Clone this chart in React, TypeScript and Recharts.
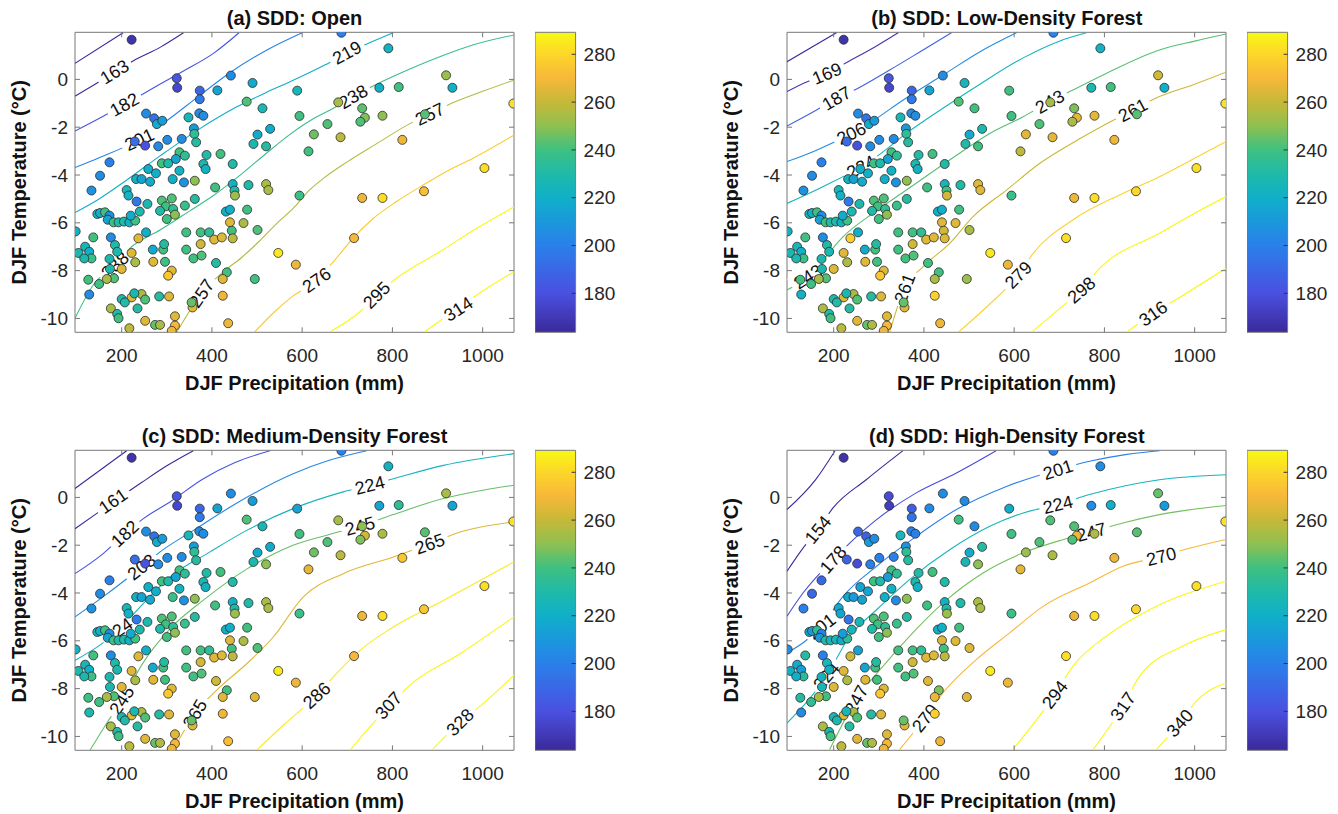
import React from 'react';
import { ScatterChart, Scatter, XAxis, YAxis, ComposedChart, ReferenceArea } from 'recharts';

const FONT = 'Arial, "Liberation Sans", Helvetica, sans-serif';
const AXIS = '#777777';
const X_DOMAIN: [number, number] = [96.5, 1069.5];
const Y_DOMAIN: [number, number] = [-10.58, 1.97];
const C_DOMAIN: [number, number] = [163.7, 289.2];
const PLOT_W = 439;
const PLOT_H = 300;

const xTicks = [200, 400, 600, 800, 1000];
const yTicks = [-10, -8, -6, -4, -2, 0];
const cbTicks = [180, 200, 220, 240, 260, 280];

// DJF precipitation (mm) of each site
const precip = [222,687,791,322,323,442,490,373,412,373,477,512,589,594,771,814,919,933,1068,680,733,739,729,778,872,822,685,656,626,614,254,272,278,290,348,372,381,360,361,333,301,281,252,229,501,529,492,520,365,388,381,386,419,446,328,340,289,303,320,328,173,152,133,259,276,232,244,263,313,338,362,407,446,450,451,481,520,525,594,211,215,233,257,240,289,311,298,314,340,362,318,300,285,431,440,478,440,444,446,470,501,146,152,163,173,169,182,193,205,217,230,220,98,137,176,237,254,343,375,394,405,422,375,104,119,128,133,117,185,190,173,222,230,269,292,294,343,359,377,270,296,409,547,586,715,733,778,870,1004,174,200,183,126,150,167,311,303,433,424,495,128,200,222,207,244,252,283,305,176,190,193,235,252,217,274,285,318,318,311,357,355,424,436,228];
// DJF temperature (°C) of each site
const temp = [1.66,1.95,1.30,0.05,-0.35,0.16,-0.15,-0.47,-0.46,-0.83,-0.93,-1.21,-0.47,-1.53,-0.35,-0.32,0.17,-0.35,-1.01,-0.96,-1.21,-1.60,-1.77,-1.52,-1.46,-2.53,-2.42,-1.87,-2.30,-3.01,-1.43,-1.63,-1.87,-1.73,-1.59,-1.42,-1.52,-2.05,-2.28,-2.49,-2.53,-2.80,-2.77,-2.60,-2.31,-2.07,-2.70,-2.80,-2.63,-3.16,-3.54,-3.75,-3.12,-3.54,-3.05,-3.19,-3.51,-3.51,-3.33,-3.82,-3.47,-4.03,-4.65,-3.75,-3.93,-4.17,-4.17,-4.28,-4.17,-4.31,-4.24,-4.52,-4.38,-4.65,-4.86,-4.42,-4.38,-4.63,-4.86,-4.63,-4.86,-5.11,-5.21,-5.53,-5.07,-4.98,-5.31,-5.42,-5.28,-5.00,-5.66,-5.84,-5.50,-5.53,-5.45,-5.45,-5.98,-6.33,-6.65,-6.01,-6.30,-5.63,-5.59,-5.56,-5.70,-5.87,-5.98,-5.98,-5.95,-5.98,-5.91,-5.70,-6.36,-6.61,-6.61,-6.65,-6.40,-6.40,-6.40,-6.40,-6.70,-6.61,-6.89,-7.26,-7.00,-7.21,-7.49,-7.49,-6.93,-7.21,-7.51,-7.26,-7.65,-7.12,-7.12,-6.89,-7.12,-7.49,-7.37,-7.63,-7.63,-7.68,-7.26,-7.75,-6.64,-4.96,-4.96,-4.68,-3.71,-7.93,-7.93,-8.32,-8.38,-8.56,-8.35,-8.00,-8.21,-8.07,-8.35,-8.35,-9.00,-9.19,-9.12,-9.33,-8.98,-9.21,-9.08,-9.08,-9.58,-9.81,-9.99,-9.58,-10.10,-10.41,-10.27,-10.27,-9.91,-10.30,-10.52,-9.54,-9.33,-9.05,-10.20,-8.95];
// Snow disappearance day, per land-cover class
const sddOpen = [168,200,222,182,176,205,218,190,215,198,242,228,226,240,220,240,252,220,283,254,244,248,242,250,243,268,258,242,246,240,205,195,218,212,225,205,205,212,235,205,205,205,180,192,218,218,228,232,232,230,228,222,240,230,240,235,240,230,215,222,200,205,208,220,220,222,215,218,220,208,250,240,222,230,252,230,255,255,238,225,222,198,228,228,242,242,240,235,238,232,250,240,230,220,220,240,265,240,258,255,242,225,220,240,205,215,240,230,230,222,240,218,222,240,205,265,220,240,240,235,265,265,262,228,225,220,238,228,230,228,228,265,255,218,240,232,240,240,242,265,240,232,285,268,270,268,282,272,282,228,265,242,240,240,255,265,275,240,265,240,205,228,265,230,255,242,232,265,255,230,240,232,265,258,245,255,265,270,268,265,245,268,268,228];
const sddLow = [168,200,222,182,176,205,225,190,215,198,242,240,240,240,228,240,262,220,283,254,248,266,255,266,243,268,266,242,266,258,205,195,218,212,225,205,205,212,235,205,205,205,180,192,218,228,230,240,232,230,228,222,240,230,240,235,240,230,215,222,200,205,208,220,220,222,215,218,220,208,250,240,225,240,262,230,265,265,238,225,222,198,228,228,242,242,240,235,238,232,250,240,230,220,220,240,265,262,265,265,255,225,220,240,205,215,240,230,230,222,240,218,222,240,205,278,220,240,240,235,265,265,262,228,225,220,238,228,230,228,228,265,255,218,240,232,240,240,242,265,240,240,285,268,282,268,282,280,282,228,265,242,240,240,255,265,275,240,255,252,222,228,265,230,255,242,232,265,255,230,240,232,265,258,245,255,265,270,268,265,245,278,268,228];
const sddMed = [168,200,222,182,176,205,212,190,215,198,242,225,215,240,215,235,255,215,283,254,250,262,248,255,243,275,258,242,246,266,205,195,218,212,225,205,205,212,235,205,205,205,180,192,218,218,228,250,232,230,228,222,240,230,240,235,240,230,215,222,200,205,208,220,220,222,215,218,238,208,250,240,222,230,252,230,255,255,238,225,222,198,228,228,242,242,240,235,238,232,250,240,230,220,220,240,265,240,258,255,242,225,220,240,205,215,240,230,230,222,240,218,222,240,205,265,220,240,240,235,265,265,262,228,225,220,238,228,230,228,228,265,255,218,240,232,240,240,242,265,240,262,285,268,270,268,282,275,282,228,265,242,240,240,255,265,275,240,265,265,228,228,265,230,255,242,232,265,255,230,240,232,265,258,245,255,265,270,268,265,245,268,272,228];
const sddHigh = [168,200,205,178,172,205,205,186,205,195,240,205,218,240,205,220,245,212,283,242,242,268,242,255,243,268,255,242,252,266,190,188,212,205,225,200,200,208,235,200,200,200,178,188,218,232,225,250,232,230,228,222,240,230,240,235,240,230,212,222,190,190,200,215,215,218,210,215,220,205,250,240,222,230,252,230,255,255,238,218,215,195,225,225,242,242,240,235,238,232,250,240,230,220,220,240,265,240,258,265,265,215,212,235,200,210,232,225,225,218,235,212,205,232,200,262,215,240,240,235,265,265,262,220,218,212,232,220,225,222,222,265,255,215,240,232,240,240,242,265,240,265,285,268,282,268,282,280,282,225,265,240,232,235,255,265,275,248,268,265,205,225,265,228,255,242,232,265,255,228,240,232,265,258,245,255,265,270,268,265,245,278,268,225];

type Contour = { level: number; path: number[][]; labels: number[][] };

const contoursOpen: Contour[] = [
  { level: 144, path: [[96.5, 0.67], [203, 1.95]], labels: [] },
  { level: 163, path: [[96.5, -0.7], [141, -0.2], [184, 0.3], [226, 0.78], [286, 1.35], [337, 1.95]], labels: [[184, 0.32]] },
  { level: 182, path: [[96.5, -2.16], [158, -1.55], [213, -0.98], [268, -0.38], [336, 0.34], [405, 1.11], [460, 1.95]], labels: [[206, -1.05]] },
  { level: 201, path: [[96.5, -3.69], [150, -3.28], [239, -2.51], [294, -1.81], [371, -0.7], [439, 0.27], [524, 1.25], [600, 1.95]], labels: [[239, -2.51]] },
  { level: 219, path: [[96.5, -5.57], [150, -5.0], [209, -4.24], [285, -3.2], [370, -2.1], [450, -1.2], [520, -0.55], [573, -0.1], [650, 0.6], [699, 1.1], [747, 1.51], [802, 1.95]], labels: [[699, 1.12]] },
  { level: 238, path: [[96.5, -9.99], [137, -8.6], [185, -7.75], [222, -7.0], [285, -6.3], [351, -5.5], [400, -4.9], [466, -3.95], [520, -3.1], [573, -2.3], [620, -1.7], [669, -1.21], [713, -0.72], [776, -0.1], [840, 0.45], [905, 0.95], [980, 1.45], [1069.5, 1.86]], labels: [[185, -7.77], [713, -0.72]] },
  { level: 257, path: [[322, -10.58], [359, -9.44], [377, -8.95], [425, -8.05], [466, -7.45], [506, -6.75], [545, -6.0], [580, -5.4], [615, -4.65], [650, -4.1], [700, -3.45], [760, -2.75], [839, -1.85], [883, -1.45], [931, -1.0], [1000, -0.5], [1069.5, -0.03]], labels: [[377, -8.95], [883, -1.45]] },
  { level: 276, path: [[494, -10.58], [540, -9.7], [573, -9.16], [632, -8.39], [669, -7.63], [710, -6.7], [758, -5.81], [810, -5.1], [868, -4.42], [920, -3.85], [979, -3.3], [1069.5, -2.33]], labels: [[632, -8.39]] },
  { level: 295, path: [[660, -10.58], [728, -9.72], [765, -9.02], [809, -8.32], [905, -7.21], [987, -6.23], [1069.5, -5.33]], labels: [[765, -9.02]] },
  { level: 314, path: [[870, -10.58], [913, -10.0], [946, -9.6], [987, -9.02], [1069.5, -8.05]], labels: [[946, -9.6]] },
];

const contoursLow: Contour[] = [
  { level: 150, path: [[96.5, 0.74], [206, 1.95]], labels: [] },
  { level: 169, path: [[96.5, -0.51], [136, -0.14], [185, 0.25], [232, 0.74], [295, 1.4], [343, 1.95]], labels: [[185, 0.25]] },
  { level: 187, path: [[96.5, -1.95], [162, -1.28], [206, -0.79], [254, -0.37], [324, 0.39], [398, 1.23], [461, 1.95]], labels: [[206, -0.79]] },
  { level: 206, path: [[96.5, -3.44], [162, -2.96], [239, -2.26], [284, -1.77], [354, -0.86], [442, 0.18], [531, 1.23], [605, 1.95]], labels: [[239, -2.26]] },
  { level: 224, path: [[96.5, -5.19], [176, -4.49], [261, -3.65], [295, -3.23], [361, -2.26], [442, -1.21], [524, -0.2], [620, 0.9], [700, 1.6], [760, 1.95]], labels: [[261, -3.65]] },
  { level: 243, path: [[96.5, -8.81], [143, -8.25], [176, -7.56], [221, -6.58], [287, -5.6], [361, -4.63], [457, -3.37], [546, -2.26], [620, -1.56], [679, -0.93], [723, -0.51], [804, 0.25], [922, 1.23], [1000, 1.6], [1069.5, 1.9]], labels: [[143, -8.25], [679, -0.93]] },
  { level: 261, path: [[324, -10.58], [340, -9.6], [357, -8.74], [398, -7.84], [457, -6.86], [509, -5.74], [583, -4.63], [657, -3.51], [753, -2.4], [863, -1.28], [922, -0.72], [1000, -0.2], [1069.5, 0.3]], labels: [[357, -8.74], [863, -1.28]] },
  { level: 279, path: [[476, -10.58], [540, -9.5], [609, -8.18], [642, -7.28], [730, -5.88], [841, -4.77], [922, -4.07], [1000, -3.3], [1069.5, -2.6]], labels: [[609, -8.18]] },
  { level: 298, path: [[638, -10.58], [700, -9.6], [749, -8.81], [790, -7.9], [922, -6.44], [1000, -5.6], [1069.5, -4.9]], labels: [[749, -8.81]] },
  { level: 316, path: [[849, -10.58], [908, -9.79], [960, -9.2], [1069.5, -7.9]], labels: [[908, -9.79]] },
];

const contoursMed: Contour[] = [
  { level: 140, path: [[96.5, 0.37], [211, 1.95]], labels: [] },
  { level: 161, path: [[96.5, -1.31], [141, -0.72], [181, -0.2], [244, 0.62], [300, 1.32], [358.7, 1.95]], labels: [[181, -0.15]] },
  { level: 182, path: [[96.5, -3.19], [159, -2.35], [207, -1.52], [248, -0.89], [307, -0.19], [381, 0.78], [450, 1.45], [528.6, 1.95]], labels: [[207, -1.52]] },
  { level: 203, path: [[96.5, -5.0], [163, -4.1], [244, -2.91], [285, -2.28], [359, -1.38], [447, -0.33], [580, 0.99], [660, 1.55], [743, 1.95]], labels: [[244, -2.91]] },
  { level: 224, path: [[96.5, -6.82], [192.5, -5.56], [240.5, -4.59], [307, -3.33], [396, -2.28], [477, -1.38], [580, -0.47], [691, 0.23], [750, 0.51], [802, 0.78], [913, 1.34], [1069.5, 1.83]], labels: [[192.5, -5.56], [750, 0.51]] },
  { level: 245, path: [[129.7, -10.58], [165, -9.5], [200, -8.49], [248, -6.9], [307, -5.5], [381, -4.3], [477, -3.0], [580, -2.0], [660, -1.55], [728, -1.2], [802, -0.72], [913, -0.05], [1000, 0.3], [1069.5, 0.51]], labels: [[200, -8.49], [728, -1.2]] },
  { level: 265, path: [[314, -10.58], [362, -9.05], [410, -8.07], [477, -6.96], [536, -5.84], [602, -4.17], [691, -3.19], [802, -2.49], [883, -1.94], [950, -1.45], [1069.5, -1.03]], labels: [[362, -9.05], [883, -1.94]] },
  { level: 286, path: [[499, -10.58], [560, -9.5], [632, -8.28], [676, -7.37], [728, -6.4], [802, -5.42], [913, -4.31], [1069.5, -2.7]], labels: [[632, -8.28]] },
  { level: 307, path: [[706, -10.58], [750, -9.6], [791, -8.75], [839, -7.85], [950, -6.54], [1069.5, -5.0]], labels: [[791, -8.7]] },
  { level: 328, path: [[887, -10.58], [950, -9.4], [1001, -8.63], [1069.5, -7.44]], labels: [[950, -9.4]] },
];

const contoursHigh: Contour[] = [
  { level: 131, path: [[96.5, -0.51], [160, 0.74], [203, 1.95]], labels: [] },
  { level: 154, path: [[96.5, -3.09], [132, -2.12], [165, -1.35], [198.5, -0.44], [272, 0.74], [353, 1.95]], labels: [[165, -1.35]] },
  { level: 178, path: [[96.5, -4.97], [132, -4.0], [198.5, -2.6], [235.5, -1.91], [295, -0.93], [383, 0.19], [472, 1.02], [560, 1.95]], labels: [[198.5, -2.6]] },
  { level: 201, path: [[96.5, -6.51], [172.7, -5.39], [220.7, -4.14], [295, -2.88], [383, -1.63], [472, -0.51], [583, 0.46], [697, 1.16], [767, 1.51], [850, 1.8], [922, 1.95]], labels: [[172.7, -5.39], [697, 1.16]] },
  { level: 224, path: [[96.5, -9.44], [183.8, -7.48], [235.5, -5.81], [295, -4.7], [368, -3.44], [457, -2.19], [546, -1.21], [620, -0.65], [697, -0.3], [767, 0.12], [922, 0.74], [1069.5, 0.95]], labels: [[183.8, -7.48], [697, -0.3]] },
  { level: 247, path: [[191, -10.55], [250, -8.46], [309, -7.07], [368, -5.81], [442, -4.42], [531, -3.16], [620, -2.32], [708, -1.77], [771, -1.45], [841, -1.07], [922, -0.72], [1069.5, -0.34]], labels: [[250, -8.46], [771, -1.45]] },
  { level: 270, path: [[346, -10.55], [402, -9.23], [442, -8.18], [516, -6.79], [590, -5.67], [664, -4.56], [767, -3.58], [841, -2.88], [926, -2.47], [978, -2.18], [1069.5, -1.76]], labels: [[402, -9.23], [926, -2.47]] },
  { level: 294, path: [[597, -10.55], [690, -8.25], [730, -7.07], [804, -5.81], [900, -4.7], [1069.5, -3.51]], labels: [[690, -8.25]] },
  { level: 317, path: [[775, -10.55], [841, -8.74], [878, -7.48], [974, -6.22], [1069.5, -5.53]], labels: [[841, -8.74]] },
  { level: 340, path: [[915, -10.55], [967, -9.44], [1007, -8.46], [1069.5, -7.76]], labels: [[967, -9.44]] },
];

// parula-like colormap (style)
const CMAP_STOPS = [0, 0.13, 0.29, 0.37, 0.45, 0.53, 0.61, 0.69, 0.77, 0.85, 0.93, 1];
const CMAP_COLORS = ['#3b2a9a', '#4a50e0', '#2a80ea', '#1a98dc', '#10b0c8', '#20baa8', '#40c080', '#90c050', '#c8b838', '#f8b83a', '#fcd82a', '#f8f814'];
const hex = (h: string) => [1, 3, 5].map((i) => parseInt(h.slice(i, i + 2), 16));
function parula(v: number) {
  let t = (v - C_DOMAIN[0]) / (C_DOMAIN[1] - C_DOMAIN[0]);
  t = Math.max(0, Math.min(1, t));
  let i = 0;
  while (i < CMAP_STOPS.length - 2 && t > CMAP_STOPS[i + 1]) i++;
  const f = (t - CMAP_STOPS[i]) / (CMAP_STOPS[i + 1] - CMAP_STOPS[i]);
  const a = hex(CMAP_COLORS[i]);
  const b = hex(CMAP_COLORS[i + 1]);
  const c = a.map((x, k) => Math.round(x + (b[k] - x) * f));
  return `rgb(${c[0]},${c[1]},${c[2]})`;
}

const KX = PLOT_W / (X_DOMAIN[1] - X_DOMAIN[0]);
const KY = PLOT_H / (Y_DOMAIN[1] - Y_DOMAIN[0]);
function slopeAngle(path: number[][], px: number) {
  let i = 0;
  while (i < path.length - 2 && path[i + 1][0] < px) i++;
  const [x0, y0] = path[i];
  const [x1, y1] = path[i + 1];
  return (-Math.atan2((y1 - y0) * KY, (x1 - x0) * KX) * 180) / Math.PI;
}

const BottomTick = (p: any) => (
  <g>
    <line x1={p.x} x2={p.x} y1={p.y} y2={p.y - 5} stroke={AXIS} />
    <text x={p.x} y={p.y + 23} dy="0.35em" textAnchor="middle" fontSize={19} fill="#262626" fontFamily={FONT}>{p.payload.value}</text>
  </g>
);
const TopTick = (p: any) => <line x1={p.x} x2={p.x} y1={p.y} y2={p.y + 5} stroke={AXIS} />;
const LeftTick = (p: any) => (
  <g>
    <line x1={p.x} x2={p.x + 5} y1={p.y} y2={p.y} stroke={AXIS} />
    <text x={p.x - 7} y={p.y} dy="0.35em" textAnchor="end" fontSize={19} fill="#262626" fontFamily={FONT}>{p.payload.value}</text>
  </g>
);
const RightTick = (p: any) => <line x1={p.x} x2={p.x - 5} y1={p.y} y2={p.y} stroke={AXIS} />;
const CbTick = (p: any) => (
  <g>
    <line x1={p.x} x2={p.x - 4} y1={p.y} y2={p.y} stroke="#333" />
    <text x={p.x + 8} y={p.y} dy="0.35em" textAnchor="start" fontSize={19} fill="#262626" fontFamily={FONT}>{p.payload.value}</text>
  </g>
);

const EmptyShape = () => <g />;
const PointShape = (p: any) => (
  <circle cx={p.cx} cy={p.cy} r={4.5} fill={parula(p.payload.v)} stroke="#2b2b2b" strokeWidth={0.8} />
);
const LabelShape = (p: any) => (
  <g transform={`translate(${p.cx},${p.cy}) rotate(${p.payload.angle})`}>
    <rect x={-19} y={-9} width={38} height={18} fill="#ffffff" />
    <text x={0} y={0} dy="0.35em" textAnchor="middle" fontSize={18} fill="#111" fontFamily={FONT}>{p.payload.level}</text>
  </g>
);

const XTitle = (p: any) => {
  const vb = p.viewBox;
  return (
    <text x={vb.x + vb.width / 2} y={vb.y + 51} dy="0.35em" textAnchor="middle" fontSize={20} fontWeight="bold" fill="#111" fontFamily={FONT}>
      DJF Precipitation (mm)
    </text>
  );
};
const YTitle = (p: any) => {
  const vb = p.viewBox;
  const cy = vb.y + vb.height / 2;
  return (
    <text x={19.5} y={cy} dy="0.35em" transform={`rotate(-90, 19.5, ${cy})`} textAnchor="middle" fontSize={20} fontWeight="bold" fill="#111" fontFamily={FONT}>
      DJF Temperature (°C)
    </text>
  );
};

function Panel({ title, sdd, contours, left, top }: { title: string; sdd: number[]; contours: Contour[]; left: number; top: number }) {
  const pts = precip.map((p, i) => ({ x: p, y: temp[i], v: sdd[i] }));
  const labelPts = contours.flatMap((c) => c.labels.map(([x, y]) => ({ x, y, level: c.level, angle: slopeAngle(c.path, x) })));
  return (
    <div style={{ position: 'absolute', left, top, width: 600, height: 410 }}>
      <div style={{ position: 'absolute', left: 75, width: PLOT_W, top: 7, textAlign: 'center', fontFamily: FONT, fontWeight: 'bold', fontSize: 20, lineHeight: '22px', color: '#111', whiteSpace: 'nowrap' }}>
        {title}
      </div>
      <ScatterChart width={600} height={410} margin={{ top: 31.3, right: 85, bottom: 0, left: 0 }}>
        <XAxis type="number" dataKey="x" domain={X_DOMAIN} ticks={xTicks} allowDataOverflow height={77.7} interval={0} tickSize={0} tickMargin={0} tickLine={false} axisLine={{ stroke: AXIS }} tick={BottomTick} label={{ content: XTitle }} />
        <XAxis xAxisId="top" orientation="top" type="number" dataKey="x" domain={X_DOMAIN} ticks={xTicks} allowDataOverflow height={1} interval={0} tickSize={0} tickMargin={0} tickLine={false} axisLine={{ stroke: AXIS }} tick={TopTick} />
        <YAxis type="number" dataKey="y" domain={Y_DOMAIN} ticks={yTicks} allowDataOverflow width={75} interval={0} tickSize={0} tickMargin={0} tickLine={false} axisLine={{ stroke: AXIS }} tick={LeftTick} label={{ content: YTitle }} />
        <YAxis yAxisId="right" orientation="right" type="number" dataKey="y" domain={Y_DOMAIN} ticks={yTicks} allowDataOverflow width={1} interval={0} tickSize={0} tickMargin={0} tickLine={false} axisLine={{ stroke: AXIS }} tick={RightTick} />
        <Scatter xAxisId="top" yAxisId="right" data={pts} shape={EmptyShape} isAnimationActive={false} />
        {contours.map((c) => (
          <Scatter
            key={`c${c.level}`}
            data={c.path.map(([x, y]) => ({ x, y }))}
            fill={parula(c.level)}
            line={{ stroke: parula(c.level), strokeWidth: 1.1 }}
            lineJointType="monotoneX"
            shape={EmptyShape}
            isAnimationActive={false}
          />
        ))}
        <Scatter data={labelPts} shape={LabelShape} isAnimationActive={false} />
        <Scatter data={pts} shape={PointShape} isAnimationActive={false} />
      </ScatterChart>
    </div>
  );
}

function ColorBar({ left, top }: { left: number; top: number }) {
  const n = 125;
  const step = (C_DOMAIN[1] - C_DOMAIN[0]) / n;
  const bands = Array.from({ length: n }, (_, i) => ({ lo: C_DOMAIN[0] + i * step, hi: Math.min(C_DOMAIN[1], C_DOMAIN[0] + (i + 1.3) * step) }));
  const tickData = cbTicks.map((v) => ({ x: 0.5, v }));
  return (
    <div style={{ position: 'absolute', left, top }}>
      <ComposedChart width={110} height={410} data={tickData} margin={{ top: 32.3, right: 68.4, bottom: 77.7, left: 0 }}>
        <XAxis type="number" dataKey="x" domain={[0, 1]} hide allowDataOverflow />
        <YAxis type="number" dataKey="v" orientation="right" domain={C_DOMAIN} ticks={cbTicks} allowDataOverflow width={1} interval={0} tickSize={0} tickMargin={0} tickLine={false} axisLine={false} tick={CbTick} />
        <Scatter data={tickData} dataKey="v" shape={EmptyShape} isAnimationActive={false} />
        {bands.map((b, i) => (
          <ReferenceArea key={i} x1={0} x2={1} y1={b.lo} y2={b.hi} fill={parula(b.lo + step / 2)} fillOpacity={1} stroke="none" ifOverflow="hidden" />
        ))}
        <ReferenceArea x1={0} x2={1} y1={C_DOMAIN[0]} y2={C_DOMAIN[1]} fill="none" fillOpacity={0} stroke={AXIS} strokeWidth={1} />
      </ComposedChart>
    </div>
  );
}

export default function App() {
  const bx = 712.3;
  const cy = 418.4;
  return (
    <div style={{ position: 'absolute', left: 0, top: 0, width: 1338, height: 814, background: '#ffffff', overflow: 'hidden' }}>
      <Panel title="(a) SDD: Open" sdd={sddOpen} contours={contoursOpen} left={0} top={0} />
      <ColorBar left={534.7} top={0} />
      <Panel title="(b) SDD: Low-Density Forest" sdd={sddLow} contours={contoursLow} left={bx} top={0} />
      <ColorBar left={534.7 + bx} top={0} />
      <Panel title="(c) SDD: Medium-Density Forest" sdd={sddMed} contours={contoursMed} left={0} top={cy} />
      <ColorBar left={534.7} top={cy} />
      <Panel title="(d) SDD: High-Density Forest" sdd={sddHigh} contours={contoursHigh} left={bx} top={cy} />
      <ColorBar left={534.7 + bx} top={cy} />
    </div>
  );
}
